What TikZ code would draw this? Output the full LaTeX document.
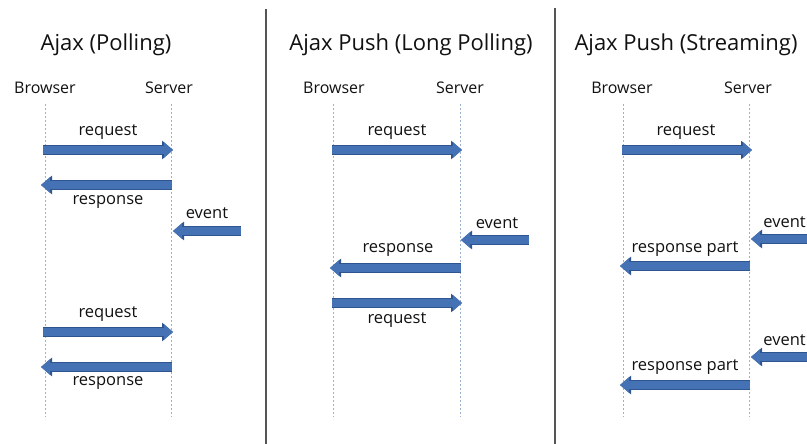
\documentclass[tikz,border=0pt]{standalone}
\usepackage{fontspec}
\setmainfont{Open Sans}
\usetikzlibrary{arrows.meta}
\definecolor{arrowblue}{HTML}{4472B4}
\definecolor{arrowdark}{HTML}{2E5590}
\definecolor{lifeline}{HTML}{9DB1CF}
\definecolor{sepgray}{HTML}{555555}
\definecolor{txt}{HTML}{111111}
\tikzset{
  title/.style={text=txt, inner sep=0pt, font=\fontsize{22}{26}\selectfont},
  actor/.style={text=txt, inner sep=0pt, font=\fontsize{16}{19}\selectfont},
  lbl/.style={text=txt, inner sep=0pt, font=\fontsize{16.5}{19}\selectfont},
  lifeln/.style={draw=lifeline, line width=1pt, dash pattern=on 2pt off 2pt},
  sepline/.style={draw=sepgray, line width=2.2pt},
  blockarrow/.style={draw=arrowblue, line width=7.5pt, -{Triangle[length=9pt,width=15pt]},
    preaction={draw=arrowdark, line width=9.5pt, -{Triangle[length=11pt,width=18pt]}}},
}
\begin{document}
\begin{tikzpicture}[x=1pt,y=-1pt]
\useasboundingbox (0,0) rectangle (807,444);
\clip (0,0) rectangle (807,444);
\fill[white] (0,0) rectangle (807,444);

% separators
\coordinate (sep1t) at (266,9);
\coordinate (sep1b) at (266,444);
\coordinate (sep2t) at (555,8);
\coordinate (sep2b) at (555,444);
\draw[sepline] (sep1t) -- (sep1b);
\draw[sepline] (sep2t) -- (sep2b);

% ===== Panel 1: Ajax (Polling)
\node[title] (t1) at (106,45) {Ajax (Polling)};
\node[actor] (b1) at (45,88) {Browser};
\node[actor] (s1) at (169,88) {Server};
\coordinate (b1t) at (45,104);  \coordinate (b1b) at (45,417);
\coordinate (s1t) at (171,104); \coordinate (s1b) at (171,417);
\draw[lifeln] (b1t) -- (b1b);
\draw[lifeln] (s1t) -- (s1b);
\coordinate (p1a) at (43,150);  \coordinate (p1b) at (173,150);
\draw[blockarrow] (p1a) -- (p1b);
\node[lbl] (l1a) at (108,132) {request};
\coordinate (p1c) at (172,185); \coordinate (p1d) at (41,185);
\draw[blockarrow] (p1c) -- (p1d);
\node[lbl] (l1b) at (108,202) {response};
\coordinate (p1e) at (241,231); \coordinate (p1f) at (173,231);
\draw[blockarrow] (p1e) -- (p1f);
\node[lbl] (l1c) at (207,213) {event};
\coordinate (p1g) at (43,332);  \coordinate (p1h) at (173,332);
\draw[blockarrow] (p1g) -- (p1h);
\node[lbl] (l1d) at (108,314) {request};
\coordinate (p1i) at (172,367); \coordinate (p1j) at (41,367);
\draw[blockarrow] (p1i) -- (p1j);
\node[lbl] (l1e) at (108,383) {response};

% ===== Panel 2: Ajax Push (Long Polling)
\node[title] (t2) at (411,45) {Ajax Push (Long Polling)};
\node[actor] (b2) at (334,88) {Browser};
\node[actor] (s2) at (460,88) {Server};
\coordinate (b2t) at (333,104);  \coordinate (b2b) at (333,417);
\coordinate (s2t) at (460,104);  \coordinate (s2b) at (460,417);
\draw[lifeln] (b2t) -- (b2b);
\draw[lifeln] (s2t) -- (s2b);
\coordinate (p2a) at (332,150);  \coordinate (p2b) at (462,150);
\draw[blockarrow] (p2a) -- (p2b);
\node[lbl] (l2a) at (397,132) {request};
\coordinate (p2c) at (529,240);  \coordinate (p2d) at (461,240);
\draw[blockarrow] (p2c) -- (p2d);
\node[lbl] (l2b) at (497,223) {event};
\coordinate (p2e) at (461,268);  \coordinate (p2f) at (330,268);
\draw[blockarrow] (p2e) -- (p2f);
\node[lbl] (l2c) at (398,250) {response};
\coordinate (p2g) at (332,303);  \coordinate (p2h) at (462,303);
\draw[blockarrow] (p2g) -- (p2h);
\node[lbl] (l2d) at (397,320) {request};

% ===== Panel 3: Ajax Push (Streaming)
\node[title] (t3) at (686,45) {Ajax Push (Streaming)};
\node[actor] (b3) at (622,88) {Browser};
\node[actor] (s3) at (748,88) {Server};
\coordinate (b3t) at (623,104);  \coordinate (b3b) at (623,417);
\coordinate (s3t) at (749,104);  \coordinate (s3b) at (749,417);
\draw[lifeln] (b3t) -- (b3b);
\draw[lifeln] (s3t) -- (s3b);
\coordinate (p3a) at (622,150);  \coordinate (p3b) at (752,150);
\draw[blockarrow] (p3a) -- (p3b);
\node[lbl] (l3a) at (686,132) {request};
\coordinate (p3c) at (820,239);  \coordinate (p3d) at (751,239);
\draw[blockarrow] (p3c) -- (p3d);
\node[lbl, anchor=east] (l3b) at (806,222) {event};
\coordinate (p3e) at (750,266);  \coordinate (p3f) at (620,266);
\draw[blockarrow] (p3e) -- (p3f);
\node[lbl] (l3c) at (685,249) {response part};
\coordinate (p3g) at (820,357);  \coordinate (p3h) at (751,357);
\draw[blockarrow] (p3g) -- (p3h);
\node[lbl, anchor=east] (l3d) at (806,340) {event};
\coordinate (p3i) at (750,385);  \coordinate (p3j) at (620,385);
\draw[blockarrow] (p3i) -- (p3j);
\node[lbl] (l3e) at (685,367) {response part};
\end{tikzpicture}
\end{document}
